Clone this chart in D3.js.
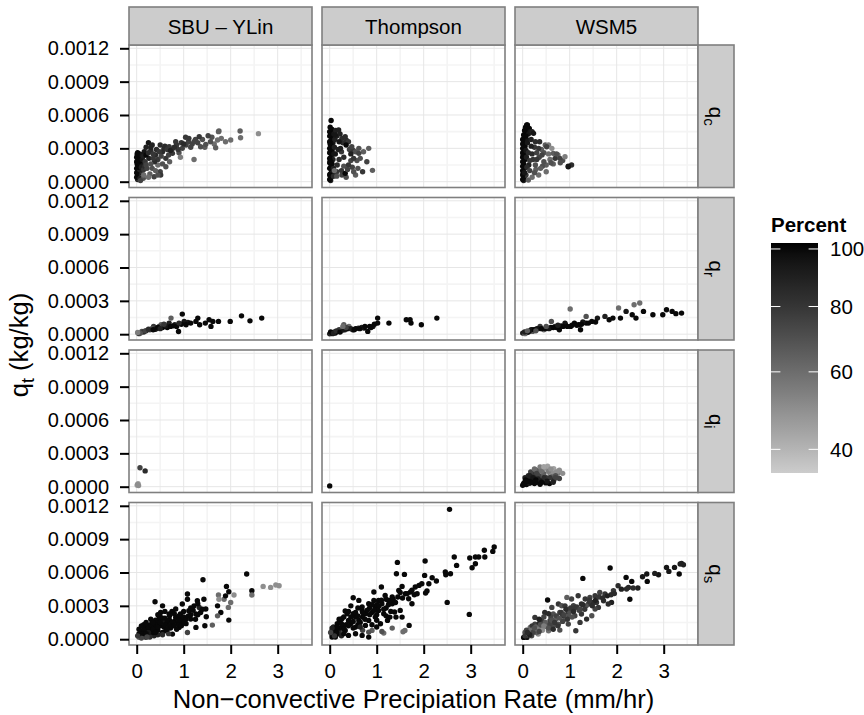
<!DOCTYPE html>
<html>
<head>
<meta charset="utf-8">
<script src="https://cdn.jsdelivr.net/npm/d3@7"></script>
<style>
  body { margin: 0; background: #fff; }
  text { font-family: "Liberation Sans", Arial, Helvetica, sans-serif; }
</style>
</head>
<body>
<svg id="chart" width="864" height="715"></svg>
<script>

var schemes = ["SBU \u2013 YLin", "Thompson", "WSM5"];
var species = ["c", "r", "i", "s"];

var xTicks = [0, 1, 2, 3];
var xMinor = [0.5, 1.5, 2.5, 3.5];
var yTicks = [0, 0.0003, 0.0006, 0.0009, 0.0012];
var yMinor = [0.00015, 0.00045, 0.00075, 0.00105];
var legendTicks = [40, 60, 80, 100];

/* points: [precip rate (mm/hr), q (kg/kg), percent] */
var qc_SBU = [
  [0.02,0.00002,90],[0.03,0.00005,100],[0.05,0.00008,100],[0.02,0.00011,100],[0.04,0.00014,100],
  [0.06,0.00017,100],[0.03,0.0002,100],[0.05,0.00023,100],[0.02,0.00026,100],[0.08,0.00012,95],
  [0.09,0.00006,90],[0.07,0.00021,100],[0.1,0.00018,95],[0.11,0.00009,85],[0.04,0.00003,80],
  [0.12,0.00004,70],[0.01,0.00016,100],[0.06,0.00025,100],[0.1,0.00024,95],[0.13,0.00015,90],
  [0.0,0.00004,100],[0.0,0.00008,100],[0.0,0.00012,100],[0.0,0.00018,100],[0.0,0.00022,100],
  [0.01,0.00025,100],[0.07,0.00003,90],[0.08,0.00015,95],[0.09,0.00019,100],[0.06,0.00011,90],
  [0.04,0.00018,100],[0.03,0.00013,100],[0.05,0.0002,100],[0.1,0.00013,90],[0.12,0.0002,95],
  [0.14,0.00023,90],[0.15,0.00011,80],[0.17,0.00014,85],[0.14,0.00003,70],[0.08,0.00001,75],
  [0.16,0.00027,95],[0.25,0.00035,95],[0.2,0.00031,90],[0.33,0.00033,90],[0.3,0.00028,85],
  [0.4,0.00024,85],[0.26,0.00021,90],[0.18,0.00018,80],[0.22,0.00012,75],[0.33,0.00012,70],
  [0.37,0.000045,75],[0.28,0.00007,65],[0.15,0.00006,60],[0.45,0.0002,80],[0.5,0.00009,75],
  [0.55,0.00027,85],[0.62,0.00021,80],[0.62,0.000135,70],[0.45,0.00015,60],[0.38,0.00018,85],
  [0.2,0.00024,100],[0.51,0.00006,80],[0.6,0.00032,85],
  [0.25,0.00026,85],[0.3,0.00031,90],[0.35,0.00025,80],[0.42,0.00029,85],[0.48,0.00027,80],
  [0.52,0.00023,75],[0.58,0.0003,85],[0.65,0.00029,80],[0.68,0.00024,75],[0.75,0.00029,80],
  [0.85,0.00033,80],[0.9,0.00026,70],[0.95,0.00035,80],[1.05,0.00033,75],[1.1,0.00036,75],
  [1.18,0.00034,75],[1.25,0.00038,75],[1.4,0.00038,70],[1.45,0.00031,65],[1.6,0.0004,70],
  [1.65,0.00034,60],[0.3,0.00016,70],[0.4,0.0001,65],[0.55,0.00016,70],[0.7,0.00018,65],
  [0.25,0.00004,60],[0.45,0.00006,70],[0.2,0.00015,75],[0.35,0.00021,80],[0.5,0.00033,85],
  [0.69,0.000315,80],[0.76,0.000255,80],[0.83,0.00036,80],[0.93,0.00022,55],[0.97,0.0003,75],
  [1.04,0.0004,80],[1.11,0.00039,80],[1.22,0.00036,75],[1.22,0.0002,60],[1.33,0.000405,80],
  [1.36,0.000315,70],[1.47,0.000336,70],[1.52,0.000414,75],[1.57,0.00036,70],[0.88,0.00029,80],
  [1.0,0.00034,85],[1.15,0.00031,75],[0.72,0.00028,90],[0.8,0.00031,85],[1.3,0.00035,75],
  [1.68,0.000306,65],[1.72,0.000375,60],[1.74,0.00045,65],[1.75,0.000456,65],[1.89,0.00036,60],
  [2.0,0.000375,60],[2.2,0.000456,65],[2.21,0.000396,60],[2.59,0.000432,50],[1.8,0.00039,60]
];

var qc_Thompson = [
  [0.02,0.00001,90],[0.03,0.00004,100],[0.01,0.00007,100],[0.04,0.0001,100],[0.02,0.00013,100],
  [0.05,0.00016,100],[0.01,0.00019,100],[0.03,0.00022,100],[0.05,0.00025,100],[0.02,0.00028,100],
  [0.04,0.00031,100],[0.01,0.00034,100],[0.03,0.00037,100],[0.05,0.0004,100],[0.02,0.00043,100],
  [0.04,0.00046,100],[0.03,0.00055,100],[0.06,0.00008,95],[0.07,0.00035,95],[0.07,0.0002,90],
  [0.01,0.00049,100],[0.06,0.00044,95],
  [0.0,0.00002,100],[0.0,0.00006,100],[0.0,0.00012,100],[0.0,0.00017,100],[0.0,0.00021,100],
  [0.0,0.00026,100],[0.0,0.0003,100],[0.0,0.00036,100],[0.0,0.00041,100],[0.0,0.00045,100],
  [0.04,0.00005,100],[0.04,0.00015,100],[0.03,0.00018,100],[0.05,0.00028,100],[0.03,0.00033,100],
  [0.05,0.00038,100],[0.03,0.00042,100],[0.05,0.00047,100],[0.08,0.00012,90],[0.09,0.00025,95],
  [0.09,0.00043,95],[0.1,0.00031,90],[0.11,0.00038,90],[0.13,0.00046,90],
  [0.15,0.00041,90],[0.22,0.00043,90],[0.28,0.00035,85],[0.36,0.00037,85],[0.25,0.00027,80],
  [0.3,0.00014,70],[0.42,0.00029,75],[0.5,0.00028,80],[0.58,0.00019,70],[0.45,0.00019,75],
  [0.2,0.0002,85],[0.15,0.00009,80],[0.25,0.0001,80],[0.35,0.00004,70],[0.48,0.00013,75],
  [0.55,0.00006,65],[0.18,0.00029,90],[0.62,0.0003,70],[0.08,0.00005,85],
  [0.19,0.000465,90],[0.12,0.00042,95],[0.26,0.00039,85],[0.33,0.000405,85],[0.4,0.00036,80],
  [0.47,0.000315,75],[0.55,0.00027,70],[0.65,0.00021,70],[0.72,0.00027,65],[0.83,0.0003,65],
  [0.79,0.00018,75],[0.91,0.000102,65],[0.51,0.00009,70],[0.4,0.00015,80],[0.26,0.00006,75],
  [0.33,0.000075,100],[0.62,0.000255,75],[0.51,0.00021,80],[0.23,0.0003,90],[0.16,0.00015,85],
  [0.12,0.00025,95],[0.3,0.00022,85],[0.45,0.00025,90],[0.35,0.00033,100],[0.2,0.00036,95],
  [0.15,0.00005,70],[0.1,0.0001,60],[0.38,0.00011,75],[0.6,0.00012,70],[0.7,0.00009,80]
];

var qc_WSM5 = [
  [0.02,0.00001,90],[0.03,0.00004,100],[0.01,0.00008,100],[0.04,0.00012,100],[0.02,0.00016,100],
  [0.05,0.0002,100],[0.01,0.00024,100],[0.03,0.00028,100],[0.05,0.00032,100],[0.02,0.00036,100],
  [0.04,0.0004,100],[0.06,0.00044,100],[0.085,0.00051,100],[0.1,0.00047,100],[0.12,0.00043,95],
  [0.08,0.00038,95],[0.13,0.00015,90],[0.07,0.00006,80],[0.12,0.000015,65],
  [0.0,0.00002,100],[0.0,0.00006,100],[0.0,0.0001,100],[0.0,0.00014,100],[0.0,0.00018,100],
  [0.0,0.00022,100],[0.0,0.00026,100],[0.0,0.0003,100],[0.0,0.00034,100],[0.0,0.00038,100],
  [0.02,0.00042,100],[0.04,0.00046,100],[0.06,0.00049,100],[0.1,0.00051,100],[0.14,0.00048,100],
  [0.16,0.00045,95],[0.04,0.00008,95],[0.04,0.00024,100],[0.03,0.00033,100],[0.07,0.00028,95],
  [0.08,0.00022,90],[0.09,0.00013,85],[0.1,0.00035,95],[0.12,0.00026,85],[0.07,0.00041,100],
  [0.18,0.00038,90],[0.25,0.00031,80],[0.3,0.00026,75],[0.22,0.0002,80],[0.35,0.00022,75],
  [0.4,0.00029,65],[0.45,0.00026,70],[0.55,0.00025,60],[0.58,0.0002,60],[0.5,0.00015,65],
  [0.42,0.00014,70],[0.28,0.00011,65],[0.2,0.00004,60],[0.15,0.00019,80],[0.65,0.00016,65],
  [0.75,0.00024,60],[0.85,0.00019,70],[0.36,0.00036,85],
  [0.2,0.00045,90],[0.23,0.000435,95],[0.27,0.00036,85],[0.34,0.0003,80],[0.48,0.00033,65],
  [0.55,0.00033,55],[0.51,0.000315,75],[0.62,0.0003,50],[0.65,0.000255,65],[0.69,0.00021,80],
  [0.79,0.00021,75],[0.9,0.000225,55],[0.97,0.000135,100],[1.04,0.00015,85],[0.97,0.00014,95],
  [0.41,0.00024,75],[0.27,0.00015,70],[0.34,0.00006,60],[0.2,0.00025,85],[0.3,0.0002,80],
  [0.45,0.00018,70],[0.6,0.00017,70],[0.38,0.00012,65],[0.5,0.00009,60],[0.25,0.00008,70],
  [0.18,0.00032,90],[0.72,0.00025,70],[0.8,0.00017,70],[0.15,0.0001,75]
];

var qr_SBU = [
  [0.97,0.000181,100],[2.23,0.000165,100],[2.41,0.00012,100],[2.66,0.000145,100],[1.99,0.000115,100],
  [1.74,0.000115,100],[1.62,0.000115,100],[1.54,0.00013,100],[1.3,0.000145,100],[1.26,0.000115,100],
  [1.09,0.000106,95],[1.01,0.000115,95],[0.89,0.000024,100],[0.73,0.000145,65],[0.81,0.000085,90],
  [0.6,0.00007,85],[0.44,0.000055,80],[0.28,0.00004,75],[0.11,0.000025,70],[0.03,0.00001,60],
  [0.69,0.0001,90],[0.85,0.00007,100],[0.52,0.000085,65],[0.36,0.00007,80],[1.34,0.000085,100],
  [1.46,0.0001,100],[1.58,0.00007,100],[0.05,0.000005,80],[0.15,0.00002,85],[0.2,0.00003,90],
  [0.4,0.000045,95],[0.55,0.00006,100],[0.65,0.00006,100],[0.78,0.000075,100],[0.95,0.00009,100],
  [1.15,0.0001,100],[0.32,0.00005,70],[0.48,0.00007,75],[0.9,0.0001,85],[1.05,0.000085,100],
  [0.08,0.00001,70],[0.18,0.00003,75],[0.25,0.000045,85],[0.45,0.00006,100],[0.62,0.000075,95],
  [0.72,0.00007,100],[0.35,0.00004,100],[0.5,0.00005,90],[0.58,0.00009,80],[0.02,0.000015,55]
];

var qr_Thompson = [
  [0.0,0.000003,90],[0.03,0.00001,80],[0.06,0.000005,95],[0.1,0.00002,85],[0.3,0.000085,65],
  [0.49,0.00004,90],[0.73,0.000055,100],[1.02,0.000145,100],[1.02,0.0001,100],[0.81,0.000025,100],
  [1.26,0.0001,100],[1.63,0.00013,100],[1.73,0.0001,100],[1.71,0.00013,100],[1.95,0.000085,100],
  [2.28,0.000145,100],[0.16,0.000025,70],[0.33,0.00004,75],[0.61,0.000055,85],[0.85,0.00007,100],
  [0.92,0.00007,95],[0.41,0.00007,60],[0.2,0.00004,80],[0.55,0.00005,100],[0.68,0.00006,90],
  [0.25,0.00003,65],[0.95,0.00009,100],[0.12,0.00001,100],[0.38,0.00005,100],
  [0.02,0.00002,100],[0.08,0.00001,90],[0.14,0.00003,85],[0.22,0.00002,100],[0.3,0.00004,95],
  [0.45,0.00005,90],[0.52,0.00004,100],[0.64,0.00005,100],[0.75,0.00007,100],[0.88,0.00006,100],
  [0.35,0.00006,75],[0.28,0.00007,60]
];

var qr_WSM5 = [
  [0.0,0.00001,90],[0.21,0.00004,85],[0.53,0.000055,90],[0.78,0.00004,100],[1.02,0.00007,100],
  [1.01,0.000226,60],[1.19,0.000085,100],[1.35,0.0001,100],[1.23,0.00004,100],[1.59,0.000145,95],
  [1.84,0.00013,100],[1.92,0.000145,100],[2.04,0.000235,60],[2.08,0.000145,100],[2.2,0.000205,95],
  [2.33,0.000175,100],[2.37,0.000265,60],[2.49,0.00028,60],[2.41,0.000145,100],[2.57,0.000205,100],
  [2.77,0.000175,100],[2.98,0.000175,100],[3.06,0.00022,100],[3.18,0.000205,100],[3.26,0.000185,100],
  [3.38,0.00019,100],[1.35,0.00016,70],[0.61,0.000115,70],[0.91,0.000085,90],[0.37,0.00007,80],
  [0.21,0.000025,65],[0.09,0.000015,75],[0.45,0.00004,60],[0.69,0.00007,85],[0.9,0.0001,95],
  [1.1,0.0001,100],[1.47,0.000115,100],[1.75,0.00016,90],[0.3,0.00005,85],[0.15,0.00003,80],
  [0.05,0.000005,60],[0.6,0.00006,100],[0.82,0.000075,100],[1.15,0.00008,100],[1.28,0.00011,95],
  [0.04,0.00002,90],[0.12,0.00002,100],[0.18,0.00004,95],[0.25,0.00004,100],[0.33,0.00005,95],
  [0.4,0.00005,100],[0.48,0.00005,100],[0.56,0.00005,95],[0.65,0.00006,100],[0.72,0.00006,100],
  [0.86,0.00007,100],[0.95,0.00007,100],[1.05,0.00008,100],[0.75,0.00008,90],[0.5,0.00007,70],
  [0.28,0.00003,70],[0.1,0.00003,65],[1.25,0.00009,100],[1.4,0.0001,100],[1.55,0.00011,100]
];

var qi_SBU = [
  [0.01,0.000013,45],[0.03,0.000028,45],[0.02,0.00002,50],[0.04,0.00001,50],
  [0.07,0.00017,75],[0.18,0.000142,85]
];

var qi_Thompson = [
  [0.0,0.000007,100]
];

var qi_WSM5 = [
  [0.38,0.00016,55],[0.5,0.00017,45],[0.67,0.00014,50],[0.75,0.00012,55],[0.58,0.00012,55],
  [0.0,0.000013,100],[0.05,0.000043,95],[0.13,0.000074,90],[0.21,0.000118,80],[0.29,0.000148,65],
  [0.37,0.000178,55],[0.53,0.000184,45],[0.66,0.000163,45],[0.78,0.000148,50],[0.78,0.000074,75],
  [0.57,0.000028,100],[0.49,0.000034,100],[0.41,0.000058,90],[0.29,0.000088,85],[0.45,0.000118,65],
  [0.61,0.000118,50],[0.62,0.000088,65],[0.17,0.000133,75],[0.25,0.000028,100],[0.37,0.000022,100],
  [0.66,0.000058,85],[0.72,0.000133,50],[0.45,0.000163,50],[0.08,0.00002,100],[0.1,0.00004,100],
  [0.15,0.00003,95],[0.2,0.00006,95],[0.3,0.00004,100],[0.35,0.0001,75],[0.5,0.00008,80],
  [0.55,0.00014,55],[0.4,0.00014,60],[0.25,0.00016,60],[0.7,0.0001,70],[0.6,0.00016,50],
  [0.45,0.00018,45],[0.85,0.00012,50],[0.12,0.0001,85],[0.05,0.00008,90],
  [0.15,0.0001,90],[0.3,0.00012,75],[0.7,0.00008,75],[0.58,0.00008,80],[0.45,0.00008,85],
  [0.33,0.00007,90],[0.22,0.00008,95],[0.02,0.00003,100],[0.06,0.00006,100],[0.12,0.00005,100],
  [0.18,0.00004,100],[0.28,0.00006,100],[0.4,0.00004,100],[0.52,0.00005,95],[0.65,0.00004,90],
  [0.08,0.00005,100]
];

var qs_SBU = [
  [2.34,0.000586,100],[1.41,0.000535,100],[2.45,0.000436,100],[2.45,0.000397,60],[2.69,0.000475,50],
  [2.85,0.000466,50],[2.96,0.000487,50],[3.03,0.000481,50],[1.91,0.000475,100],[1.96,0.000427,100],
  [2.07,0.000397,50],[1.74,0.000397,60],[1.86,0.00036,60],[1.75,0.00036,50],[1.89,0.00039,100],
  [2.0,0.00033,60],[1.95,0.000286,60],[1.72,0.0003,100],[1.79,0.00024,100],[1.72,0.00021,65],
  [1.96,0.000172,100],[1.61,0.000127,65],[1.45,0.000121,100],[1.48,0.000202,100],[1.43,0.00036,100],
  [1.29,0.000346,100],[1.08,0.000406,100],[1.08,0.00036,100],[0.39,0.000337,100],[0.55,0.0003,100],
  [0.83,0.000271,100],[0.97,0.000316,100],[1.22,0.0003,100],[1.33,0.000286,90],[1.36,0.00024,100],
  [1.15,0.000181,100],[0.97,0.000151,100],[1.26,0.000106,100],[1.08,0.00006,75],[0.76,0.000046,100],
  [0.55,0.00006,100],[0.27,0.000046,100],[0.05,0.000017,65],[0.16,0.000076,100],[0.33,0.000151,100],
  [0.47,0.000181,100],[0.69,0.000226,100],[0.83,0.000196,100],[0.62,0.000151,100],[0.4,0.000106,100],
  [0.9,0.000106,100],[0.76,0.000121,100],[0.51,0.000241,100],[0.26,0.000121,100],[0.12,0.000031,90],
  [0.19,0.000017,80],[0.37,0.000031,90],[0.62,0.000076,100],[1.11,0.000256,100],[0.93,0.000226,100],
  [1.47,0.000271,100],[1.26,0.000226,100],
  [0.08,0.00004,100],[0.15,0.00005,100],[0.22,0.00008,100],[0.3,0.00009,100],[0.35,0.00006,100],
  [0.45,0.00008,100],[0.5,0.00012,100],[0.58,0.00011,100],[0.65,0.00014,100],[0.7,0.00017,100],
  [0.8,0.00016,100],[0.88,0.00014,100],[1.0,0.0002,100],[1.05,0.00014,100],[0.42,0.00014,100],
  [0.2,0.0001,100],[0.28,0.00002,85],[0.1,0.00001,75],[0.6,0.00019,100],[0.72,0.0001,100],
  [0.55,0.00015,95],[0.35,0.00012,100],[0.25,0.00006,95],[0.12,0.00006,100],[0.45,0.00004,90],
  [0.68,0.00005,80],[0.85,0.00009,100],[0.95,0.00018,100],[1.15,0.00022,100],[0.75,0.00025,100],
  [0.05,0.00005,100],[0.1,0.00007,100],[0.15,0.00009,100],[0.2,0.00005,100],[0.25,0.00011,100],
  [0.3,0.00013,100],[0.35,0.00009,100],[0.4,0.00017,100],[0.45,0.00011,100],[0.5,0.00015,100],
  [0.55,0.00019,100],[0.6,0.00013,100],[0.65,0.00017,100],[0.7,0.00021,100],[0.75,0.00015,100],
  [0.8,0.00023,100],[0.85,0.00019,100],[0.9,0.00021,100],[0.95,0.00012,100],[1.0,0.00025,100],
  [1.05,0.00018,100],[1.1,0.00021,100],[1.2,0.00026,100],[1.25,0.00018,100],[1.3,0.00022,100],
  [1.4,0.00027,100],[0.15,0.00013,100],[0.3,0.00018,100],[0.2,0.00015,100],[0.5,0.0002,100],
  [0.6,0.00025,100],[0.7,0.00012,100],[0.35,0.00015,100],[0.05,0.00009,100],[0.1,0.00012,100],
  [0.02,0.00003,80],[0.22,0.00002,75],[0.4,0.00006,100],[0.55,0.00004,85],[0.65,0.00009,100],
  [0.8,0.00012,100],[0.9,0.00017,100],[1.0,0.00015,100],[1.15,0.00028,100],[1.3,0.00032,100],
  [0.45,0.00022,100]
];

var qs_Thompson = [
  [2.55,0.001168,100],[3.5,0.000829,100],[3.47,0.00079,100],[3.29,0.0008,100],[3.3,0.000739,100],
  [3.17,0.000739,100],[3.1,0.000739,100],[2.98,0.00073,100],[3.1,0.000679,100],[3.03,0.000643,100],
  [2.65,0.000739,100],[2.7,0.000664,100],[2.57,0.000589,100],[2.46,0.000604,100],[2.47,0.00058,100],
  [2.03,0.000703,100],[1.44,0.000691,100],[1.42,0.000589,100],[1.59,0.000583,100],[2.02,0.000574,100],
  [2.27,0.000523,100],[2.18,0.000553,100],[2.11,0.000499,100],[2.07,0.000433,100],[2.04,0.000415,100],
  [1.9,0.000484,100],[1.96,0.000499,100],[1.82,0.000469,100],[1.72,0.000424,100],[1.86,0.000409,100],
  [1.68,0.000364,100],[1.75,0.000319,100],[1.54,0.000475,100],[1.61,0.000409,100],[1.47,0.000439,100],
  [2.5,0.000331,100],[2.97,0.000223,100],[1.1,0.000469,100],[0.94,0.000424,100],[0.5,0.000373,100],
  [0.62,0.000349,100],[1.33,0.000319,100],[1.5,0.000259,100],[1.54,0.000199,100],[1.69,0.000124,100],
  [1.6,0.000079,60],[1.56,0.000067,60],[1.33,0.0001,65],[1.15,0.000055,60],[1.11,0.00007,70],
  [0.9,0.000079,65],[0.83,0.000064,70],[0.69,0.000034,100],[0.83,0.000019,100],[1.08,0.000139,100],
  [1.23,0.000169,100],[1.28,0.000199,100],[1.38,0.000244,100],[1.41,0.000199,100],[0.33,0.000253,100],
  [0.37,0.000229,100],[0.26,0.000184,100],[0.16,0.000139,100],[0.05,0.000079,75],[0.05,0.000019,100],
  [0.12,0.00002,100],[0.55,0.000199,100],[0.76,0.000229,100],[0.97,0.000289,100],[1.11,0.000319,100],
  [1.25,0.000349,100],[1.33,0.000379,100],[1.18,0.000394,100],[1.04,0.000349,100],[0.83,0.000319,100],
  [0.69,0.000289,100],[0.5,0.000229,100],[0.4,0.000169,100],[0.62,0.000169,100],[0.83,0.000169,100],
  [0.97,0.000199,100],[0.76,0.000124,100],[0.55,0.000109,100],[0.33,0.000079,100],[0.19,0.000049,100],
  [0.4,0.000034,100],[0.55,0.000049,100],[0.26,0.000109,100],[0.12,0.000094,75],[0.94,0.000349,100],
  [0.69,0.000259,100],[1.04,0.000259,100],[1.15,0.000229,100],
  [0.1,0.00005,80],[0.2,0.00007,85],[0.3,0.00012,100],[0.45,0.00014,100],[0.6,0.00013,100],
  [0.7,0.0002,100],[0.9,0.00024,100],[1.0,0.00022,100],[0.08,0.00011,90],[0.22,0.00016,100],
  [0.45,0.0003,100],[0.25,0.00003,90],[0.7,0.00008,75],[1.2,0.00028,100],[0.85,0.00028,100],
  [0.05,0.00004,100],[0.1,0.00008,100],[0.15,0.00006,100],[0.2,0.0001,100],[0.25,0.00014,100],
  [0.3,0.00009,100],[0.35,0.00013,100],[0.4,0.00012,100],[0.45,0.0002,100],[0.5,0.00016,100],
  [0.55,0.00024,100],[0.6,0.00021,100],[0.65,0.00015,100],[0.7,0.00024,100],[0.75,0.00018,100],
  [0.8,0.00026,100],[0.85,0.00022,100],[0.9,0.00031,100],[0.95,0.00026,100],[1.0,0.00031,100],
  [1.05,0.0003,100],[1.1,0.00035,100],[1.15,0.00027,100],[1.2,0.00036,100],[1.25,0.00031,100],
  [1.3,0.00035,100],[1.35,0.00036,100],[1.4,0.00033,100],[1.45,0.00038,100],[1.5,0.00042,100],
  [1.55,0.00037,100],[1.65,0.00041,100],[1.75,0.00044,100],[1.8,0.0004,100],[0.3,0.0002,100],
  [0.4,0.00025,100],[0.2,0.00018,100],[0.6,0.00028,100],[0.15,0.00011,100],[0.05,0.0001,90],
  [0.02,0.00006,75],[0.1,0.00003,80],[0.3,0.00005,100],[0.5,0.0001,100],[0.65,0.00011,90],
  [1.0,0.00011,100],[0.9,0.00013,100],[1.2,0.00021,100],[1.3,0.00025,100],[1.0,0.00017,100]
];

var qs_WSM5 = [
  [3.38,0.000682,90],[3.35,0.000676,90],[3.42,0.00067,90],[3.23,0.000646,95],[3.06,0.000646,95],
  [3.11,0.00061,95],[3.33,0.000586,100],[2.89,0.00058,95],[2.81,0.000592,90],[2.64,0.000586,95],
  [2.55,0.000562,95],[2.65,0.00052,100],[2.32,0.00052,100],[2.2,0.000556,100],[2.45,0.00046,90],
  [2.35,0.00046,85],[2.25,0.000466,85],[2.21,0.000451,85],[2.28,0.000359,100],[1.86,0.00064,100],
  [1.28,0.000547,100],[2.03,0.000481,85],[1.93,0.000436,80],[1.88,0.0004,85],[1.89,0.000331,90],
  [1.75,0.000406,80],[1.64,0.000421,75],[1.54,0.000391,80],[1.43,0.000376,75],[1.33,0.000361,80],
  [1.18,0.000391,80],[1.04,0.000361,75],[0.94,0.000376,65],[0.76,0.000316,80],[0.53,0.000352,100],
  [0.62,0.000286,75],[0.83,0.000301,70],[1.08,0.000301,75],[1.25,0.000316,85],[1.4,0.000316,80],
  [1.57,0.000331,80],[1.72,0.000346,85],[1.36,0.000181,85],[1.47,0.000211,70],[1.25,0.000226,80],
  [1.11,0.000211,75],[0.9,0.000181,65],[0.76,0.000136,70],[0.58,0.000166,75],[0.4,0.000166,80],
  [0.26,0.000136,75],[0.16,0.000106,60],[0.05,0.000061,70],[0.02,0.000016,100],[0.09,0.000016,95],
  [0.19,0.000031,75],[0.33,0.000046,50],[0.79,0.000082,70],[1.13,0.000076,80],[0.55,0.000076,60],
  [0.47,0.000121,75],[0.65,0.000121,70],[0.97,0.000241,80],[0.79,0.000241,75],[0.65,0.000226,70],
  [0.47,0.000241,85],[0.26,0.000196,80],[1.11,0.000286,80],[1.61,0.000286,80],[1.82,0.000316,85],
  [0.97,0.000136,75],[1.22,0.000151,80],[1.54,0.000271,75],
  [0.1,0.00004,60],[0.15,0.00007,70],[0.25,0.00009,55],[0.3,0.00006,65],[0.4,0.0001,60],
  [0.5,0.00013,70],[0.6,0.0002,75],[0.7,0.00018,65],[0.85,0.00021,80],[1.0,0.00025,70],
  [1.2,0.00026,75],[1.35,0.0003,70],[1.5,0.00033,85],[0.35,0.00014,85],[0.2,0.00012,80],
  [0.08,0.00008,75],[0.45,0.0002,75],[0.9,0.0003,80],[1.05,0.0002,70],
  [0.05,0.00003,80],[0.12,0.00005,70],[0.18,0.00008,60],[0.22,0.00006,75],[0.28,0.00011,65],
  [0.32,0.00009,55],[0.38,0.00013,70],[0.42,0.00008,50],[0.48,0.00015,65],[0.52,0.00011,60],
  [0.58,0.00013,75],[0.62,0.00017,70],[0.68,0.00015,80],[0.72,0.00021,75],[0.78,0.00019,70],
  [0.82,0.00024,80],[0.88,0.00022,75],[0.92,0.00027,85],[0.98,0.00021,70],[1.02,0.00028,80],
  [1.08,0.00025,85],[1.15,0.00029,80],[1.22,0.00027,75],[1.28,0.00031,85],[1.32,0.00027,80],
  [1.42,0.00035,80],[1.48,0.0003,85],[1.55,0.00035,90],[1.62,0.00038,80],[1.7,0.00037,85],
  [1.8,0.00039,90],[1.95,0.00041,85],[2.1,0.00045,90],[0.15,0.00004,90],[0.1,0.00006,85],
  [0.25,0.0001,70],[0.35,0.00007,75],[0.45,0.00012,55],[0.55,0.0001,70],[0.65,0.00009,85],
  [0.75,0.00012,80],[0.85,0.00016,75],[0.95,0.00018,80],[0.35,0.00018,90],[0.55,0.00023,85]
];

var panelData = [
  [qc_SBU, qc_Thompson, qc_WSM5],
  [qr_SBU, qr_Thompson, qr_WSM5],
  [qi_SBU, qi_Thompson, qi_WSM5],
  [qs_SBU, qs_Thompson, qs_WSM5]
];

/* layout */
var colLeft = [129, 322, 515];
var rowTop = [45, 197.5, 350, 502.5];
var panelW = 183, panelH = 142.5;
var stripTop = 7, stripH = 38;
var stripRightX = 698, stripRightW = 36;

var svg = d3.select("#chart");

var x = d3.scaleLinear().domain([-0.1638, 3.7298]).range([0, panelW]);
var y = d3.scaleLinear().domain([-0.0000522, 0.0012297]).range([panelH, 0]);

var pctLo = 34.7, pctHi = 102.2;
var colour = d3.scaleSqrt().domain([pctLo, pctHi])
  .range(["#cccccc", "#000000"]).interpolate(d3.interpolateLab);

/* panels */
rowTop.forEach(function(top, r){
  colLeft.forEach(function(left, c){
    var g = svg.append("g").attr("transform", "translate(" + left + "," + top + ")");

    g.append("rect").attr("width", panelW).attr("height", panelH).attr("fill", "#fff");

    g.selectAll(".xminor").data(xMinor).enter().append("line")
      .attr("x1", x).attr("x2", x).attr("y1", 0).attr("y2", panelH)
      .attr("stroke", "#f4f4f4").attr("stroke-width", 1.6);
    g.selectAll(".yminor").data(yMinor).enter().append("line")
      .attr("y1", y).attr("y2", y).attr("x1", 0).attr("x2", panelW)
      .attr("stroke", "#f4f4f4").attr("stroke-width", 1.6);
    g.selectAll(".xmajor").data(xTicks).enter().append("line")
      .attr("x1", x).attr("x2", x).attr("y1", 0).attr("y2", panelH)
      .attr("stroke", "#e6e6e6").attr("stroke-width", 1);
    g.selectAll(".ymajor").data(yTicks).enter().append("line")
      .attr("y1", y).attr("y2", y).attr("x1", 0).attr("x2", panelW)
      .attr("stroke", "#e6e6e6").attr("stroke-width", 1);

    g.selectAll("circle").data(panelData[r][c]).enter().append("circle")
      .attr("cx", function(d){ return x(d[0]); })
      .attr("cy", function(d){ return y(d[1]); })
      .attr("r", 2.7)
      .attr("fill", function(d){ return colour(d[2]); });

    g.append("rect").attr("width", panelW).attr("height", panelH)
      .attr("fill", "none").attr("stroke", "#7f7f7f").attr("stroke-width", 1.6);

    /* y axis on first column */
    if (c == 0){
      var ya = g.append("g").call(d3.axisLeft(y).tickValues(yTicks)
        .tickFormat(d3.format(".4f")).tickSize(9).tickPadding(11));
      ya.select(".domain").remove();
      ya.selectAll(".tick line").attr("stroke", "#000").attr("stroke-width", 2);
      ya.selectAll(".tick text").attr("fill", "#000").style("font-size", "20px")
        .style("font-family", "'Liberation Sans', Arial, sans-serif");
    }

    /* x axis on bottom row */
    if (r == rowTop.length - 1){
      var xa = g.append("g").attr("transform", "translate(0," + panelH + ")")
        .call(d3.axisBottom(x).tickValues(xTicks).tickFormat(d3.format("d"))
        .tickSize(9).tickPadding(9));
      xa.select(".domain").remove();
      xa.selectAll(".tick line").attr("stroke", "#000").attr("stroke-width", 2);
      xa.selectAll(".tick text").attr("fill", "#000").style("font-size", "20.5px")
        .style("font-family", "'Liberation Sans', Arial, sans-serif");
    }
  });
});

/* top strips */
colLeft.forEach(function(left, c){
  svg.append("rect").attr("x", left).attr("y", stripTop)
    .attr("width", panelW).attr("height", stripH)
    .attr("fill", "#cccccc").attr("stroke", "#7f7f7f").attr("stroke-width", 1.6);
  svg.append("text").attr("x", left + panelW / 2).attr("y", stripTop + stripH / 2 + 7.5)
    .attr("text-anchor", "middle").style("font-size", "20.5px").attr("fill", "#000")
    .text(schemes[c]);
});

/* right strips */
rowTop.forEach(function(top, r){
  svg.append("rect").attr("x", stripRightX).attr("y", top)
    .attr("width", stripRightW).attr("height", panelH)
    .attr("fill", "#cccccc").attr("stroke", "#7f7f7f").attr("stroke-width", 1.6);
  var cx = stripRightX + stripRightW / 2 - 7, cy = top + panelH / 2;
  var t = svg.append("text")
    .attr("transform", "translate(" + cx + "," + cy + ") rotate(90)")
    .attr("text-anchor", "middle").style("font-size", "20.5px").attr("fill", "#000");
  t.append("tspan").text("q");
  t.append("tspan").attr("dy", 5).style("font-size", "15px").text(species[r]);
});

/* axis titles */
svg.append("text").attr("x", (colLeft[0] + colLeft[2] + panelW) / 2).attr("y", 708)
  .attr("text-anchor", "middle").style("font-size", "25.6px").attr("fill", "#000")
  .text("Non\u2212convective Precipiation Rate (mm/hr)");

var yt = svg.append("text")
  .attr("transform", "translate(28," + (rowTop[0] + rowTop[3] + panelH) / 2 + ") rotate(-90)")
  .attr("text-anchor", "middle").style("font-size", "25.6px").attr("fill", "#000");
yt.append("tspan").text("q");
yt.append("tspan").attr("dy", 6).style("font-size", "18px").text("t");
yt.append("tspan").attr("dy", -6).text(" (kg/kg)");

/* legend */
var legX = 771, legTop = 243, legW = 47, legH = 230;
var legY = d3.scaleSqrt().domain([pctLo, pctHi]).range([legTop + legH, legTop]);

var grad = svg.append("defs").append("linearGradient").attr("id", "pctgrad")
  .attr("x1", 0).attr("x2", 0).attr("y1", 1).attr("y2", 0);
d3.range(0, 1.0001, 0.05).forEach(function(f){
  grad.append("stop").attr("offset", f)
    .attr("stop-color", d3.interpolateLab("#cccccc", "#000000")(f));
});

svg.append("text").attr("x", legX).attr("y", 232)
  .style("font-size", "20.5px").style("font-weight", "bold").attr("fill", "#000")
  .text("Percent");

svg.append("rect").attr("x", legX).attr("y", legTop)
  .attr("width", legW).attr("height", legH).attr("fill", "url(#pctgrad)");

legendTicks.forEach(function(v){
  var ly = legY(v);
  svg.append("line").attr("x1", legX).attr("x2", legX + legW / 5)
    .attr("y1", ly).attr("y2", ly).attr("stroke", "#fff").attr("stroke-width", 1);
  svg.append("line").attr("x1", legX + legW * 4 / 5).attr("x2", legX + legW)
    .attr("y1", ly).attr("y2", ly).attr("stroke", "#fff").attr("stroke-width", 1);
  svg.append("text").attr("x", 830).attr("y", ly).attr("dy", "0.35em")
    .style("font-size", "20.5px").attr("fill", "#000").text(v);
});

</script>
</body>
</html>
